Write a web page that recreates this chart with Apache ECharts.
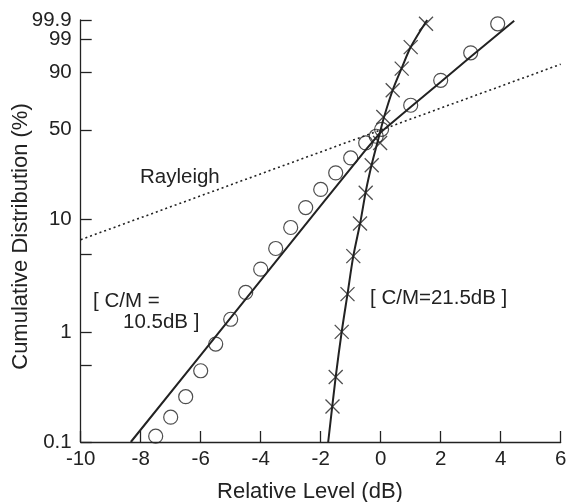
<!DOCTYPE html>
<html>
<head>
<meta charset="utf-8">
<script src="https://cdn.jsdelivr.net/npm/echarts@6/dist/echarts.min.js"></script>
<style>
html,body{margin:0;padding:0;background:#fff;}
#chart{width:566px;height:502px;}
</style>
</head>
<body>
<div id="chart"></div>
<script>
// ---- data (Relative Level in dB, Cumulative Distribution in %) ----
const yTickPercents = [0.1, 1, 10, 50, 90, 99, 99.9];
const yTickLabels = ['0.1', '1', '10', '50', '90', '99', '99.9'];
const yMinorTickPercents = [0.5, 5];

const rayleighDb = [-10, 6];
const rayleighPct = [6.7, 93.5];

const fit105Db = [-8.33, -6, -4, -2, -0.5, 0, 1, 2, 3, 4.45];
const fit105Pct = [0.1, 0.617, 2.91, 13.2, 36.6, 48.2, 67.3, 84.8, 95.9, 99.89];

const fit215Db = [-1.75, -1.5, -1.3, -1.107, -0.913, -0.673, -0.49, -0.29, -0.09, 0.11, 0.41, 0.71, 1.01, 1.55];
const fit215Pct = [0.1, 0.39, 1.0, 2.19, 4.79, 9.7, 17.7, 29.1, 42.7, 59.4, 80.2, 92.3, 98.1, 99.9];

const circleDb = [-7.5, -7, -6.5, -6, -5.5, -5, -4.5, -4, -3.5, -3, -2.5, -2, -1.5, -1, -0.5, -0.15, 0.03, 1, 2, 3, 3.9];
const circlePct = [0.113, 0.168, 0.258, 0.444, 0.775, 1.30, 2.27, 3.67, 5.6, 8.56, 12.7, 18.0, 24.5, 31.9, 40.9, 45.4, 50.3, 68.6, 85.8, 96.9, 99.83];

const crossDb = [-1.607, -1.5, -1.3, -1.107, -0.913, -0.69, -0.5, -0.3, -0.02, 0.087, 0.4, 0.7, 1.0, 1.51];
const crossPct = [0.21, 0.39, 1.0, 2.19, 4.79, 9.27, 16.9, 28.1, 40.9, 59.6, 79.5, 91.75, 98.0, 99.83];

// Rayleigh probability-paper scale
function ray(p) { return Math.log10(-Math.log(1 - p / 100)); }
function pairs(xs, ps) { return xs.map((x, i) => [x, ray(ps[i])]); }
function labelFor(v) {
  let best = 0, bd = Infinity;
  yTickPercents.forEach((p, i) => { const d = Math.abs(ray(p) - v); if (d < bd) { bd = d; best = i; } });
  return yTickLabels[best];
}

const FONT = '"Liberation Sans", Arial, Helvetica, sans-serif';
const INK = '#222';

// the 99 tick is placed on an overlaid twin axis so it is not dropped next to 99.9
const mainPct = yTickPercents.filter(p => p !== 99);
const twinPct = [99];

function yAxisCfg(labelPct, tickPct, showLine) {
  return {
    type: 'value', position: 'left', offset: 0, min: ray(0.1), max: ray(99.9),
    axisLine: {show: showLine, onZero: false, lineStyle: {color: INK, width: 1.3}},
    axisTick: {show: true, inside: true, length: 11, lineStyle: {color: INK, width: 1.3},
      customValues: tickPct.map(ray)},
    axisLabel: {margin: 9, color: INK, fontSize: 20.5, fontFamily: FONT,
      showMinLabel: true, showMaxLabel: true, hideOverlap: false,
      customValues: labelPct.map(ray), formatter: labelFor},
    splitLine: {show: false}
  };
}

const chart = echarts.init(document.getElementById('chart'), null, {renderer: 'canvas'});
chart.setOption({
  animation: false,
  backgroundColor: '#fff',
  grid: {left: 80.7, right: 5.3, top: 20, bottom: 60, containLabel: false, outerBoundsMode: 'none'},
  xAxis: {
    type: 'value', min: -10, max: 6, interval: 2,
    axisLine: {show: true, onZero: false, lineStyle: {color: INK, width: 1.3}},
    axisTick: {show: true, inside: true, length: 11, lineStyle: {color: INK, width: 1.3}},
    axisLabel: {margin: 7, color: INK, fontSize: 20.5, fontFamily: FONT, showMinLabel: true, showMaxLabel: true},
    splitLine: {show: false}
  },
  yAxis: [
    yAxisCfg(mainPct, mainPct.concat(yMinorTickPercents), true),
    yAxisCfg(twinPct, twinPct, false)
  ],
  series: [
    {type: 'line', name: 'Rayleigh', data: pairs(rayleighDb, rayleighPct), symbol: 'none',
      lineStyle: {color: INK, width: 1.6, type: [2, 3]}, silent: true},
    {type: 'line', name: 'C/M=10.5dB fit', data: pairs(fit105Db, fit105Pct), symbol: 'none',
      lineStyle: {color: INK, width: 2}, silent: true},
    {type: 'line', name: 'C/M=21.5dB fit', data: pairs(fit215Db, fit215Pct), symbol: 'none', smooth: 0.3,
      lineStyle: {color: INK, width: 2}, silent: true},
    {type: 'scatter', name: 'C/M=10.5dB', data: pairs(circleDb, circlePct), symbol: 'circle', symbolSize: 14,
      itemStyle: {color: 'rgba(0,0,0,0)', borderColor: INK, borderWidth: 1.2}, silent: true},
    {type: 'scatter', name: 'C/M=21.5dB', data: pairs(crossDb, crossPct), symbol: 'path://M0,0L10,10M10,0L0,10', symbolSize: 14,
      itemStyle: {color: 'none', borderColor: INK, borderWidth: 1.3}, silent: true}
  ],
  graphic: [
    {type: 'text', x: 140, y: 177, style: {text: 'Rayleigh', font: '20.5px ' + FONT, fill: INK, textAlign: 'left', textVerticalAlign: 'middle'}},
    {type: 'text', x: 93, y: 301, style: {text: '[ C/M =', font: '20.5px ' + FONT, fill: INK, textAlign: 'left', textVerticalAlign: 'middle'}},
    {type: 'text', x: 123, y: 322.5, style: {text: '10.5dB ]', font: '20.5px ' + FONT, fill: INK, textAlign: 'left', textVerticalAlign: 'middle'}},
    {type: 'text', x: 370, y: 298.5, style: {text: '[ C/M=21.5dB ]', font: '20.5px ' + FONT, fill: INK, textAlign: 'left', textVerticalAlign: 'middle'}},
    {type: 'text', x: 310, y: 492, style: {text: 'Relative Level (dB)', font: '22px ' + FONT, fill: INK, textAlign: 'center', textVerticalAlign: 'middle'}},
    {type: 'text', x: 21, y: 236.5, rotation: Math.PI / 2, style: {text: 'Cumulative Distribution (%)', font: '22px ' + FONT, fill: INK, textAlign: 'center', textVerticalAlign: 'middle'}}
  ]
});
</script>
</body>
</html>
